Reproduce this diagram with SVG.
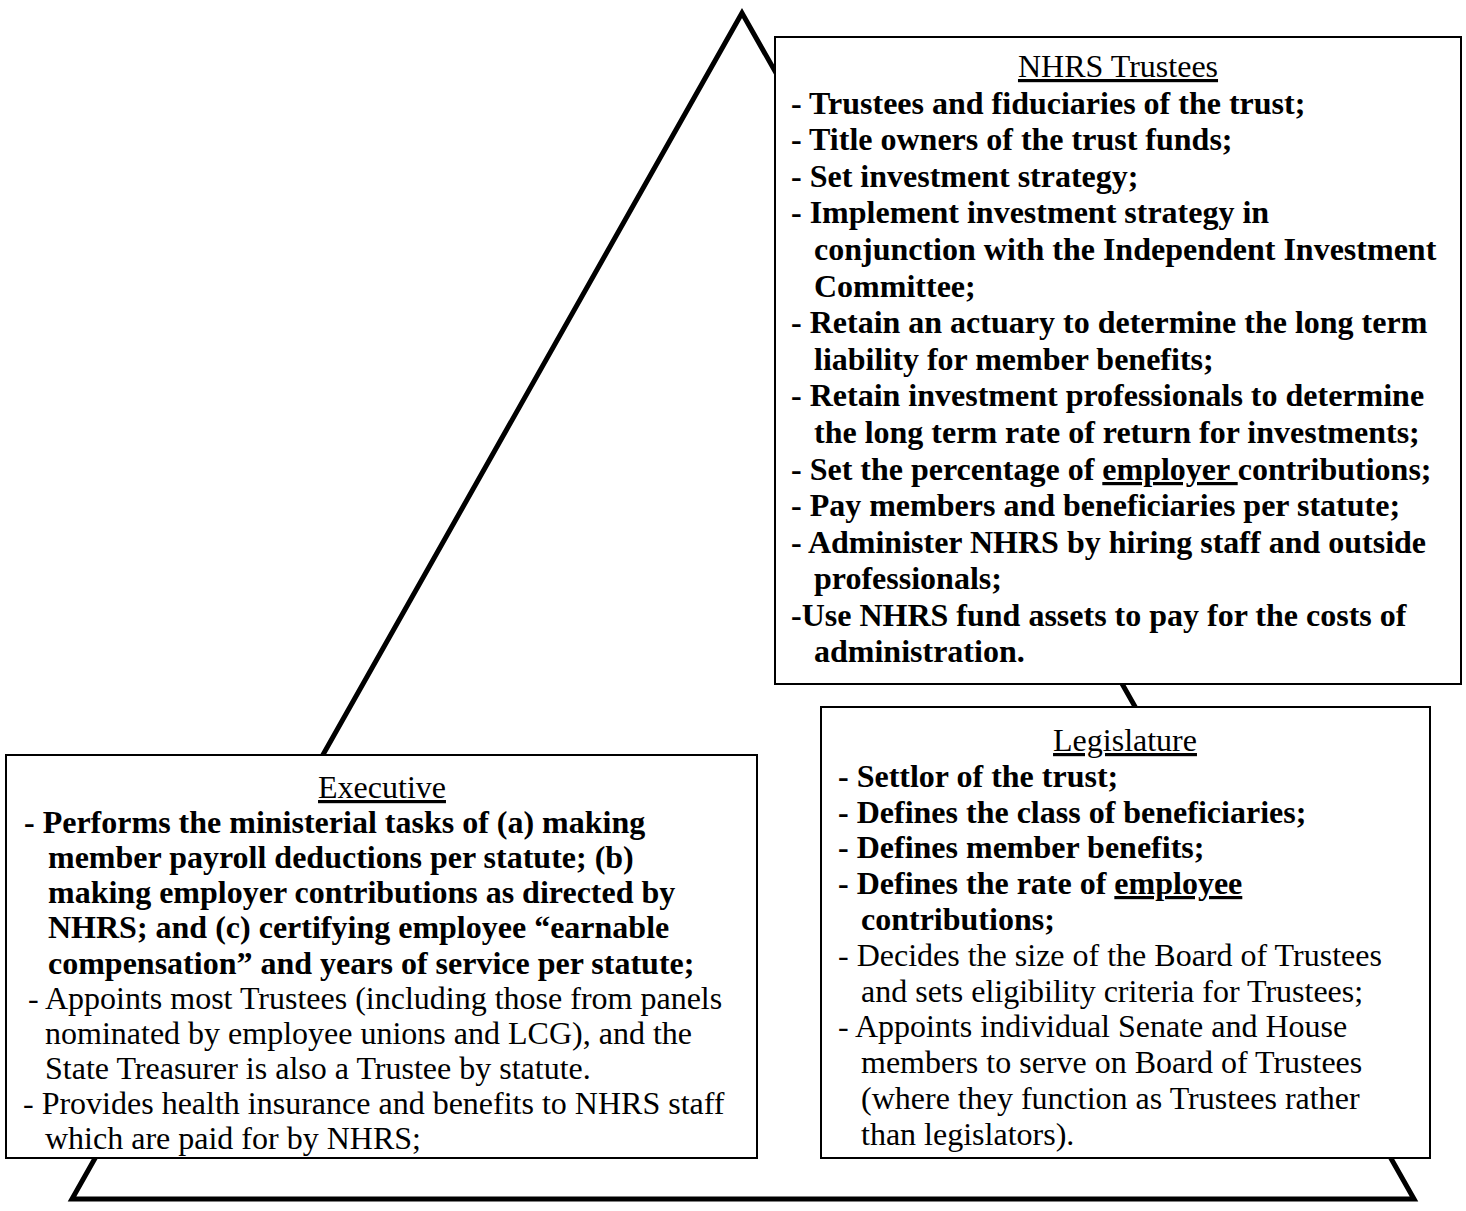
<svg xmlns="http://www.w3.org/2000/svg" width="1466" height="1211" viewBox="0 0 1466 1211">
<style>
.t{font-family:"Liberation Serif","Times New Roman",serif;font-size:32px;fill:#000}
.b{font-weight:bold}
.h{text-decoration:underline}
.box{fill:#fff;stroke:#000;stroke-width:2}
.tri{fill:none;stroke:#000;stroke-width:5;stroke-linejoin:miter}
</style>
<rect width="1466" height="1211" fill="#fff"/>
<g id="connectors">
<path class="tri" d="M742,13 L72,1199 L1414,1199 Z"/>
</g>
<g id="nhrs-trustees">
<rect class="box" x="775" y="37" width="686" height="647"/>
<text class="t h" x="1118" y="77" text-anchor="middle">NHRS Trustees</text>
<g class="t b">
<text x="791" y="114">- Trustees and fiduciaries of the trust;</text>
<text x="791" y="150">- Title owners of the trust funds;</text>
<text x="791" y="187">- Set investment strategy;</text>
<text x="791" y="223">- Implement investment strategy in</text>
<text x="814" y="260">conjunction with the Independent Investment</text>
<text x="814" y="297">Committee;</text>
<text x="791" y="333">- Retain an actuary to determine the long term</text>
<text x="814" y="370">liability for member benefits;</text>
<text x="791" y="406">- Retain investment professionals to determine</text>
<text x="814" y="443">the long term rate of return for investments;</text>
<text x="791" y="480">- Set the percentage of <tspan class="h">employer </tspan>contributions;</text>
<text x="791" y="516">- Pay members and beneficiaries per statute;</text>
<text x="791" y="553">- Administer NHRS by hiring staff and outside</text>
<text x="814" y="589">professionals;</text>
<text x="791" y="626">-Use NHRS fund assets to pay for the costs of</text>
<text x="814" y="662">administration.</text>
</g>
</g>
<g id="legislature">
<rect class="box" x="821" y="707" width="609" height="451"/>
<text class="t h" x="1125" y="751" text-anchor="middle">Legislature</text>
<g class="t b">
<text x="838" y="787">- Settlor of the trust;</text>
<text x="838" y="823">- Defines the class of beneficiaries;</text>
<text x="838" y="858">- Defines member benefits;</text>
<text x="838" y="894">- Defines the rate of <tspan class="h">employee</tspan></text>
<text x="861" y="930">contributions;</text>
</g>
<g class="t">
<text x="838" y="966">- Decides the size of the Board of Trustees</text>
<text x="861" y="1002">and sets eligibility criteria for Trustees;</text>
<text x="838" y="1037">- Appoints individual Senate and House</text>
<text x="861" y="1073">members to serve on Board of Trustees</text>
<text x="861" y="1109">(where they function as Trustees rather</text>
<text x="861" y="1145">than legislators).</text>
</g>
</g>
<g id="executive">
<rect class="box" x="6" y="755" width="751" height="403"/>
<text class="t h" x="382" y="798" text-anchor="middle">Executive</text>
<g class="t b">
<text x="24" y="833">- Performs the ministerial tasks of (a) making</text>
<text x="48" y="868">member payroll deductions per statute; (b)</text>
<text x="48" y="903">making employer contributions as directed by</text>
<text x="48" y="938">NHRS; and (c) certifying employee “earnable</text>
<text x="48" y="974">compensation” and years of service per statute;</text>
</g>
<g class="t">
<text x="28" y="1009">- Appoints most Trustees (including those from panels</text>
<text x="45" y="1044">nominated by employee unions and LCG), and the</text>
<text x="45" y="1079">State Treasurer is also a Trustee by statute.</text>
<text x="23" y="1114">- Provides health insurance and benefits to NHRS staff</text>
<text x="45" y="1149">which are paid for by NHRS;</text>
</g>
</g>
</svg>
